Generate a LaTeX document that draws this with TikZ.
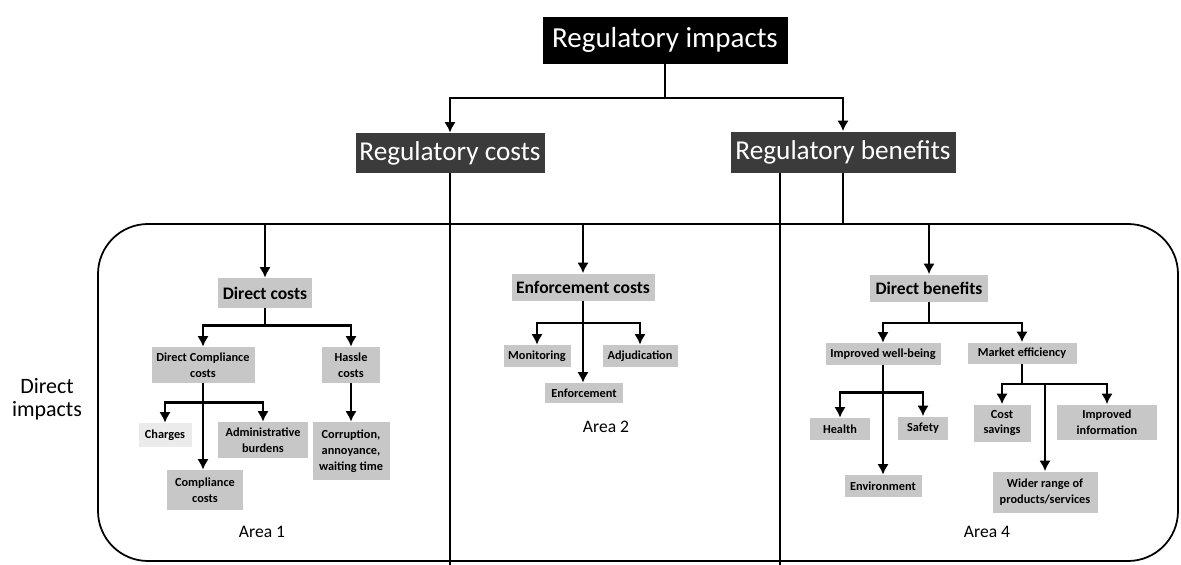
\documentclass[tikz,border=0pt]{standalone}
\usepackage{fontspec}
\setmainfont{Carlito}
\usetikzlibrary{arrows.meta}
\tikzset{
	link/.style={line width=1.4pt, -{Latex[length=6pt,width=6.5pt]}},
	rule/.style={line width=1.4pt},
	boxsize/.style 2 args={minimum width=#1*0.02cm, minimum height=#2*0.02cm},
	topbox/.style={fill=black, text=white, inner sep=0pt, font=\fontsize{16.5}{18}\selectfont},
	headbox/.style={fill=black!77, text=white, inner sep=0pt, font=\fontsize{15.5}{17}\selectfont},
	areabox/.style={fill=black!22, inner sep=0pt, font=\bfseries\fontsize{10}{12}\selectfont},
	itembox/.style={fill=black!22, inner sep=0pt, align=center, font=\bfseries\fontsize{7}{9}\selectfont},
	arealabel/.style={font=\fontsize{10}{12}\selectfont},
}

\begin{document}
\begin{tikzpicture}[x=0.02cm, y=-0.02cm]
		%%%%% START %%%%%
		\useasboundingbox (0,0) rectangle (1181,565);
		\coordinate (floor) at (0,565);
		\coordinate (cut) at (780,565);
		
		\node[topbox, boxsize={245}{47}] (impacts) at (665,40) {Regulatory impacts};
		\node[headbox, boxsize={189}{40}] (costs) at (450,153) {Regulatory costs};
		\node[headbox, boxsize={225}{41}] (benefits) at (843,152) {Regulatory benefits};
		
		\node[draw, line width=1pt, rounded corners=1cm, boxsize={1080}{337}] (frame) at (638,392.5) {};
		\node[align=center, font=\fontsize{12.5}{13}\selectfont] (direct) at (47,399) {Direct\\impacts};
		
		\draw[link] (impacts.south) -- ++(0,34) -| (costs.north);
		\draw[link] (impacts.south) ++(0,34) -| (benefits.north);
		\draw[rule] (costs.south) -- (costs.south |- floor);
		\draw[rule] (benefits.south -| cut) -- (cut);
		\draw[rule] (benefits.south) -- (benefits.south |- frame.north);
		
		% Area 1
		\node[areabox, boxsize={94}{30}] (dcost) at (265,293) {Direct costs};
		\node[itembox, boxsize={103}{36}] (dcc) at (203,365) {Direct Compliance\\costs};
		\node[itembox, boxsize={58}{36}] (hassle) at (351,365) {Hassle\\costs};
		\node[itembox, boxsize={53}{24}, fill=black!8] (charges) at (165,435) {Charges};
		\node[itembox, boxsize={90}{36}] (admin) at (263,440) {Administrative\\burdens};
		\node[itembox, boxsize={76}{40}] (compl) at (205,490) {Compliance\\costs};
		\node[itembox, boxsize={77}{58}] (corrupt) at (351,451) {Corruption,\\annoyance,\\waiting time};
		\node[arealabel] (area1) at (262,532) {Area 1};
		
		\draw[link] (dcost.north |- frame.north) -- (dcost.north);
		\draw[link] (dcost.south) -- ++(0,17) -| (dcc.north);
		\draw[link] (dcost.south) ++(0,17) -| (hassle.north);
		\draw[link] (dcc.south) -- (dcc.south |- compl.north);
		\draw[link] (dcc.south) ++(0,19) -| (charges.north);
		\draw[link] (dcc.south) ++(0,19) -| (admin.north);
		\draw[link] (hassle.south) -- (corrupt.north);
		
		% Area 2
		\node[areabox, boxsize={143}{27}] (ecost) at (583,287) {Enforcement costs};
		\node[itembox, boxsize={67}{22}] (monit) at (537,356) {Monitoring};
		\node[itembox, boxsize={75}{22}] (adjud) at (640,356) {Adjudication};
		\node[itembox, boxsize={78}{20}] (enforce) at (584,393) {Enforcement};
		\node[arealabel] (area2) at (606,427) {Area 2};
		
		\draw[link] (ecost.north |- frame.north) -- (ecost.north);
		\draw[link] (ecost.south) -- ++(0,22) -| (monit.north);
		\draw[link] (ecost.south) ++(0,22) -| (adjud.north);
		\draw[link] (ecost.south) -- (ecost.south |- enforce.north);
		
		% Area 4
		\node[areabox, boxsize={118}{27}] (dben) at (929,288) {Direct benefits};
		\node[itembox, boxsize={115}{22}] (wellb) at (883,354) {Improved well-being};
		\node[itembox, boxsize={109}{21}] (market) at (1022,353) {Market efficiency};
		\node[itembox, boxsize={60}{22}] (health) at (840,429) {Health};
		\node[itembox, boxsize={50}{23}] (safety) at (923,428) {Safety};
		\node[itembox, boxsize={77}{22}] (environ) at (883,486) {Environment};
		\node[itembox, boxsize={57}{37}] (costsav) at (1002,423) {Cost\\savings};
		\node[itembox, boxsize={100}{35}] (impinfo) at (1107,422) {Improved\\information};
		\node[itembox, boxsize={105}{41}] (wider) at (1045,492) {Wider range of\\products/services};
		\node[arealabel] (area4) at (987,532) {Area 4};
		
		\draw[link] (dben.north |- frame.north) -- (dben.north);
		\draw[link] (dben.south) -- ++(0,21) -| (wellb.north);
		\draw[link] (dben.south) ++(0,21) -| (market.north);
		\draw[link] (wellb.south) -- (environ.north);
		\draw[link] (wellb.south) ++(0,27) -| (health.north);
		\draw[link] (wellb.south) ++(0,27) -| (safety.north);
		\draw[rule] (market.south) -- ++(0,20) coordinate (mbar);
		\draw[link] (mbar) -| (costsav.north);
		\draw[link] (mbar) -| (impinfo.north);
		\draw[link] (wider.north |- mbar) -- (wider.north);
		%%%%% END %%%%%
	\end{tikzpicture}
\end{document}
